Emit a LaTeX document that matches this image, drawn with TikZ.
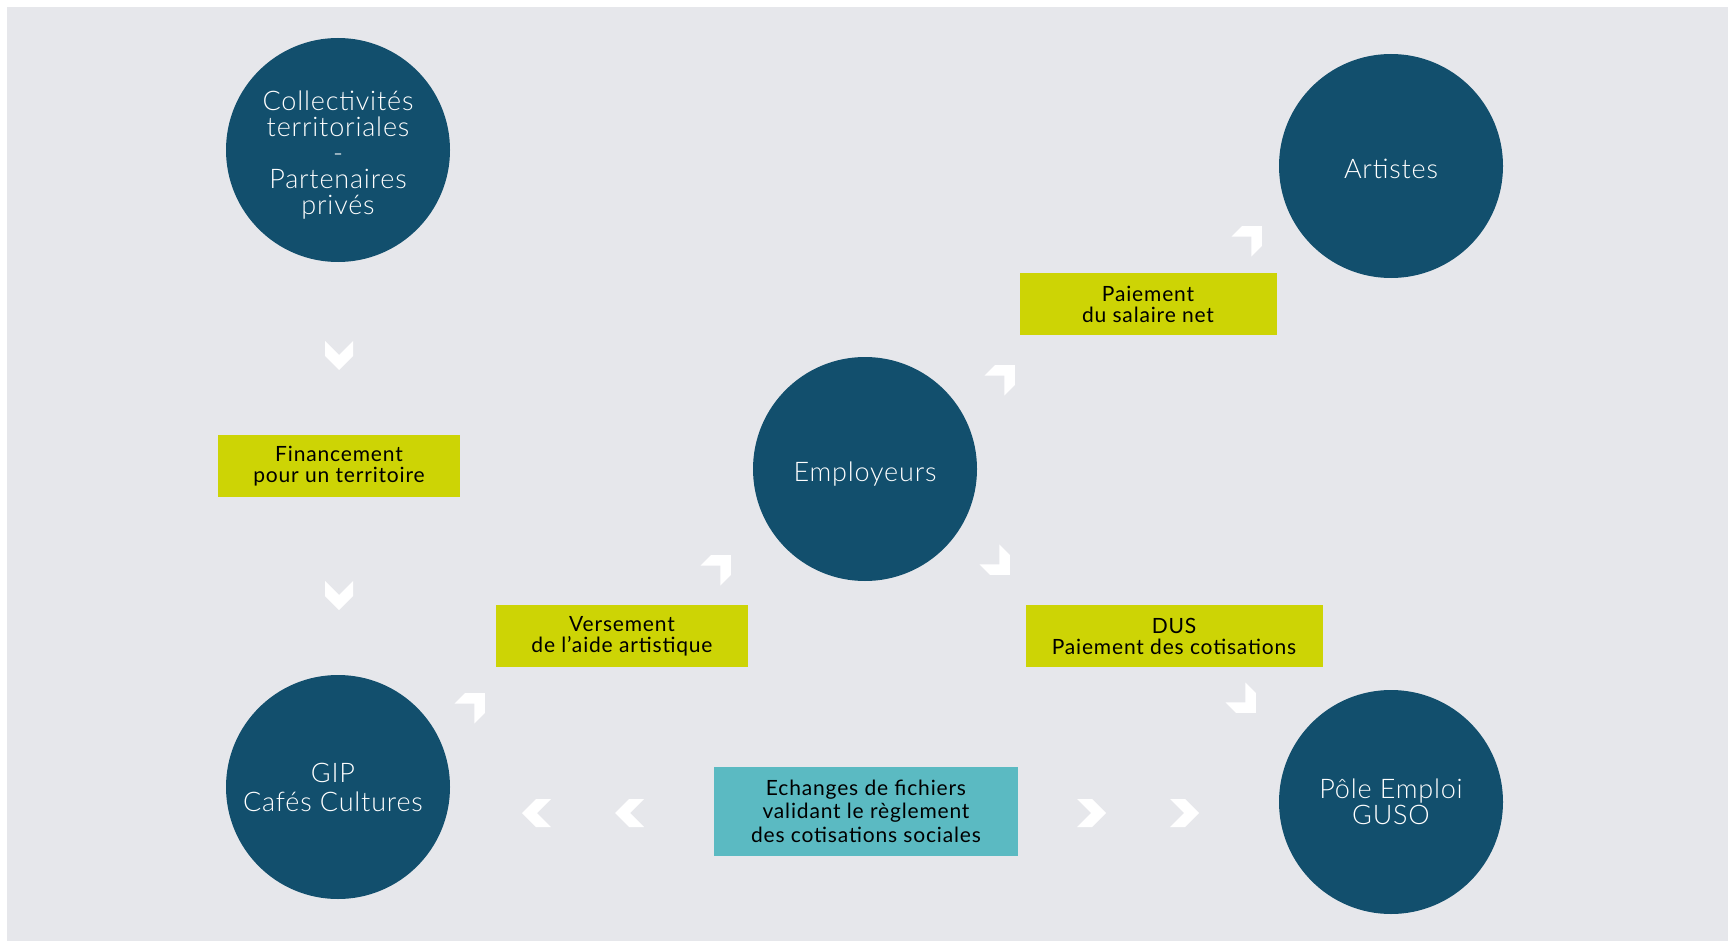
\documentclass[tikz,border=0pt]{standalone}
\usepackage{fontspec}
\setmainfont{Lato}[LetterSpace=4]
\newfontfamily\leger{Lato Light}[LetterSpace=3]
\usepackage{xcolor}
\definecolor{fondgris}{HTML}{E6E7EB}
\definecolor{bleunuit}{HTML}{124F6D}
\definecolor{jaunevert}{HTML}{CDD405}
\definecolor{turquoise}{HTML}{5BBAC2}

\begin{document}
\begin{tikzpicture}[x=1pt,y=-1pt,
  acteur/.style={circle, fill=bleunuit, minimum size=224pt, inner sep=0pt},
  nom/.style={text=white, align=center, font=\leger\fontsize{27}{26}\selectfont},
  flux/.style={fill=jaunevert, inner sep=0pt, align=center, text=black,
    minimum height=62pt, font=\fontsize{21}{21}\selectfont},
  echange/.style={fill=turquoise, inner sep=0pt, align=center, text=black,
    font=\fontsize{21}{23.5}\selectfont}]

% Fond gris
\useasboundingbox (0,0) rectangle (1728,941);
\fill[fondgris] (7,7) rectangle (1728,941);

% Les acteurs
\node[acteur] (collectivites) at (338,150) {};
\node[nom] (collectivites-nom) at (338,155) {Collectivités\\territoriales\\-\\Partenaires\\privés};
\node[acteur] (artistes) at (1391,166) {};
\node[nom] (artistes-nom) at (1391,169) {Artistes};
\node[acteur] (employeurs) at (865,469) {};
\node[nom] (employeurs-nom) at (865,474) {Employeurs};
\node[acteur] (gip) at (338,787) {};
\node[nom, font=\leger\fontsize{27}{29}\selectfont] (gip-nom) at (333,787) {GIP\\Cafés Cultures};
\node[acteur] (pole) at (1391,802) {};
\node[nom] (pole-nom) at (1391,802) {Pôle Emploi\\GUSO};

% Les flux
\node[flux, minimum width=242pt] (financement) at (339,466) {Financement\\pour un territoire};
\node[flux, minimum width=257pt] (salaire)     at (1148,304) {Paiement\\du salaire net};
\node[flux, minimum width=252pt] (versement)   at (622,636) {Versement\\de l'aide artistique};
\node[flux, minimum width=297pt] (dus)         at (1174,636) {DUS\\Paiement des cotisations};
\node[echange, minimum width=304pt, minimum height=89pt] (fichiers) at (866,811) {Echanges de fichiers\\validant le règlement\\des cotisations sociales};

% Chevrons blancs : position et orientation
\foreach \x/\y/\angle in {339/356/0, 339/596/0,
    1252/236/135, 1005/375/135, 721/565/135, 475/703/135,
    1000/565/45, 1246/703/45,
    536/813/-90, 629/813/-90, 1092/813/90, 1185/813/90}
{
  \begin{scope}[shift={(\x,\y)}, rotate=\angle]
    \fill[white] (-14,-15) -- (0,-1) -- (14,-15) -- (14,0) -- (0,14) -- (-14,0) -- cycle;
  \end{scope}
}

\end{tikzpicture}
\end{document}
